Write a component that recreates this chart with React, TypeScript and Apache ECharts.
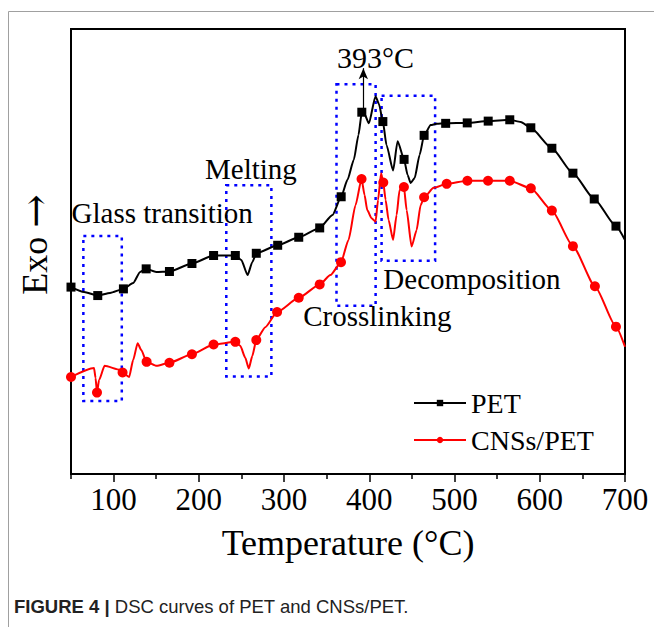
import { useEffect, useRef } from "react";
import * as echarts from "echarts";

// ---- data (temperature in °C, heat flow in arbitrary units) ----
const petTemp = [50, 65.3, 81.4, 95.8, 111.5, 122.9, 131.1, 138.2, 149.9, 165.5, 191.9, 217.3, 242.8, 249.8, 257.2, 262.7, 267.4, 292.5, 317.2, 341.8, 356.8, 367, 374.4, 381.8, 387.3, 391.2, 394, 399.5, 407.3, 411.4, 415.9, 420.2, 427.9, 433.2, 440.8, 444.9, 448.5, 453.2, 459, 464.3, 472, 479, 489.6, 514.9, 539.5, 564.8, 577.7, 589.5, 614.2, 638.9, 663.9, 689.4, 700];
const petSignal = [42.0, 40.9, 40.1, 40.7, 41.6, 42.9, 45.4, 46.1, 45.4, 45.5, 47.3, 49.1, 49.1, 48.1, 44.7, 47.6, 49.6, 51.4, 53.2, 55.3, 58.2, 62.3, 66.1, 70.6, 76.2, 81.3, 81.0, 78.8, 84.9, 83.1, 79.2, 73.9, 68.2, 74.8, 70.7, 67.2, 65.4, 66.5, 71.7, 76.1, 78.4, 78.7, 78.8, 78.9, 79.3, 79.6, 79.1, 77.8, 73.2, 67.6, 61.8, 55.7, 52.6];
const petMarkerTemp = [50, 81.4, 111.5, 138.2, 165.5, 191.9, 217.3, 242.8, 267.4, 292.5, 317.2, 341.8, 367, 391.2, 415.9, 440.8, 464.3, 489.6, 514.9, 539.5, 564.8, 589.5, 614.2, 638.9, 663.9, 689.4];

const cnsTemp = [50, 77, 78.8, 80.5, 82.9, 89.4, 107.6, 110.5, 118.2, 122.9, 128.2, 132.3, 138.7, 150.5, 165.5, 191.9, 217.3, 242.8, 248.6, 254.5, 258.6, 262.7, 267.4, 278, 291.8, 317.2, 341.8, 354.4, 366.8, 375.6, 383.8, 390.9, 394.4, 397.6, 402.6, 407.3, 410.3, 413.8, 416.4, 419.1, 422.6, 427.9, 432, 435.5, 440.6, 443.8, 449.6, 455.5, 460.2, 464.3, 475.5, 490.8, 515.1, 539.3, 564.8, 589.5, 614.2, 638.9, 664.7, 689.4, 700];
const cnsSignal = [21.8, 23.8, 21.6, 18.3, 21.1, 24.3, 23.4, 22.8, 21.8, 25.6, 29.4, 27.9, 25.2, 24.3, 25.0, 26.9, 29.1, 29.7, 28.8, 26.1, 23.7, 26.5, 30.1, 33.0, 36.4, 39.6, 42.6, 44.7, 47.6, 52.6, 60.4, 66.3, 62.7, 59.3, 57.5, 56.7, 61.6, 67.6, 65.5, 61.6, 57.1, 52.6, 58.2, 63.8, 64.5, 59.3, 51.1, 54.8, 60.4, 62.2, 64.3, 65.2, 65.9, 65.9, 65.9, 64.2, 59.2, 51.2, 42.2, 33.1, 28.6];
const cnsMarkerTemp = [50, 80.5, 110.5, 138.7, 165.5, 191.9, 217.3, 242.8, 267.4, 291.8, 317.2, 341.8, 366.8, 390.9, 416.4, 440.6, 464.3, 490.8, 515.1, 539.3, 564.8, 589.5, 614.2, 638.9, 664.7, 689.4];

const regionNames = ["Glass transition", "Melting", "Crosslinking", "Decomposition"];
const regionTempStart = [64.5, 232.2, 361.5, 414.4];
const regionTempEnd = [109.6, 285.1, 407.4, 477.2];
const regionSignalLow = [16.4, 21.9, 37.8, 47.9];
const regionSignalHigh = [53.5, 64.9, 87.6, 85.0];

const peakTemp = 393;
const peakSignalFrom = 81.3;
const peakSignalTo = 91.2;
const peakLabel = "393°C";
const peakLabelAnchor = [407.3, 93.7];

const xMajorTicks = [100, 200, 300, 400, 500, 600, 700];
const xMinorTicks = [50, 150, 250, 350, 450, 550, 650];

const seriesNames = ["PET", "CNSs/PET"];

// ---- styling ----
const SERIF = "'Liberation Serif', 'Times New Roman', Times, serif";
const SANS = "'Liberation Sans', Arial, Helvetica, sans-serif";
const regionLabelOffsets = [
  [-10.6, -22],
  [-20, -15],
  [-32, 232.7],
  [3, 184.3],
];

function buildPoints(temps: number[], signals: number[], markers: number[]) {
  return temps.map((t, i) =>
    markers.includes(t)
      ? { value: [t, signals[i]] }
      : { value: [t, signals[i]], symbol: "none" }
  );
}

export default function App() {
  const ref = useRef<HTMLDivElement>(null);

  useEffect(() => {
    if (!ref.current) return;
    const chart = echarts.init(ref.current, null, { renderer: "svg" });

    const areaData = regionNames.map((name, i) => [
      {
        name,
        coord: [regionTempStart[i], regionSignalHigh[i]],
        label: {
          show: true,
          position: regionLabelOffsets[i],
          align: "left",
          verticalAlign: "middle",
          formatter: name,
          fontFamily: SERIF,
          fontSize: 29,
          color: "#000",
        },
      },
      { coord: [regionTempEnd[i], regionSignalLow[i]] },
    ]);

    const option: any = {
      animation: false,
      backgroundColor: "#fff",
      grid: {
        left: 71,
        right: 29,
        top: 29,
        bottom: 153,
        outerBoundsMode: "none",
        show: true,
        borderColor: "#000",
        borderWidth: 2,
        backgroundColor: "transparent",
      },
      legend: {
        orient: "vertical",
        left: 408,
        top: 384,
        itemWidth: 52,
        itemHeight: 8,
        itemGap: 9,
        data: seriesNames,
        textStyle: { fontFamily: SERIF, fontSize: 28, color: "#000" },
      },
      xAxis: [
        {
          type: "value",
          min: 50,
          max: 700,
          interval: 50,
          axisLine: { show: true, lineStyle: { color: "#000", width: 2 } },
          axisTick: {
            show: true,
            customValues: xMajorTicks,
            length: 8,
            lineStyle: { color: "#000", width: 1.5 },
          },
          axisLabel: {
            customValues: xMajorTicks,
            fontFamily: SERIF,
            fontSize: 31,
            color: "#000",
            margin: 10,
          },
          splitLine: { show: false },
          name: "Temperature (°C)",
          nameLocation: "middle",
          nameGap: 51,
          nameTextStyle: { fontFamily: SERIF, fontSize: 36, color: "#000" },
        },
        {
          type: "value",
          min: 50,
          max: 700,
          interval: 50,
          position: "bottom",
          axisLine: { show: false },
          axisTick: {
            show: true,
            customValues: xMinorTicks,
            length: 5,
            lineStyle: { color: "#000", width: 1.5 },
          },
          axisLabel: { show: false },
          splitLine: { show: false },
        },
      ],
      yAxis: {
        type: "value",
        min: 0,
        max: 100,
        axisLine: { show: true, lineStyle: { color: "#000", width: 2 } },
        axisTick: { show: false },
        axisLabel: { show: false },
        splitLine: { show: false },
        name: "Exo {a|\u2192}",
        nameLocation: "middle",
        nameGap: 16,
        nameTextStyle: {
          fontFamily: SERIF,
          fontSize: 36,
          color: "#000",
          padding: [0, 0, 0, 14],
          rich: {
            a: { fontFamily: "'DejaVu Serif', serif", fontSize: 40, color: "#000" },
          },
        },
      },
      series: [
        {
          type: "line",
          name: seriesNames[0],
          data: buildPoints(petTemp, petSignal, petMarkerTemp),
          symbol: "rect",
          symbolSize: 9,
          smooth: 0.2,
          smoothMonotone: "x",
          lineStyle: { color: "#000", width: 2 },
          itemStyle: { color: "#000" },
          z: 3,
          markArea: {
            silent: true,
            itemStyle: {
              color: "transparent",
              borderColor: "#0000ff",
              borderWidth: 2.5,
              borderType: [3, 5],
            },
            data: areaData,
          },
          markLine: {
            silent: true,
            symbol: ["none", "arrow"],
            symbolSize: [7, 11],
            lineStyle: { color: "#000", width: 1.2, type: "solid" },
            label: { show: false },
            data: [[{ coord: [peakTemp, peakSignalFrom] }, { coord: [peakTemp, peakSignalTo] }]],
          },
          markPoint: {
            silent: true,
            symbol: "circle",
            symbolSize: 1,
            itemStyle: { color: "transparent" },
            label: {
              show: true,
              position: "inside",
              formatter: peakLabel,
              fontFamily: SERIF,
              fontSize: 30,
              color: "#000",
            },
            data: [{ coord: peakLabelAnchor }],
          },
        },
        {
          type: "line",
          name: seriesNames[1],
          data: buildPoints(cnsTemp, cnsSignal, cnsMarkerTemp),
          symbol: "circle",
          symbolSize: 10,
          smooth: 0.2,
          smoothMonotone: "x",
          lineStyle: { color: "#ff0000", width: 2 },
          itemStyle: { color: "#ff0000" },
          z: 3,
        },
      ],
      graphic: [
        {
          type: "line",
          shape: { x1: 8.5, y1: 11.5, x2: 654, y2: 11.5 },
          style: { stroke: "#a0a0a0", lineWidth: 1 },
          silent: true,
        },
        {
          type: "line",
          shape: { x1: 8.5, y1: 11.5, x2: 8.5, y2: 627 },
          style: { stroke: "#a0a0a0", lineWidth: 1 },
          silent: true,
        },
        {
          type: "text",
          left: 14,
          top: 597,
          silent: true,
          style: {
            text: "{b|FIGURE 4 |} DSC curves of PET and CNSs/PET.",
            fontFamily: SANS,
            fontSize: 18.5,
            fill: "#222",
            rich: {
              b: { fontFamily: SANS, fontSize: 18.5, fontWeight: "bold", fill: "#222" },
            },
          },
        },
      ],
    };

    chart.setOption(option);
    return () => chart.dispose();
  }, []);

  return (
    <div
      ref={ref}
      style={{ position: "fixed", left: 0, top: 0, width: 654, height: 627 }}
    />
  );
}
